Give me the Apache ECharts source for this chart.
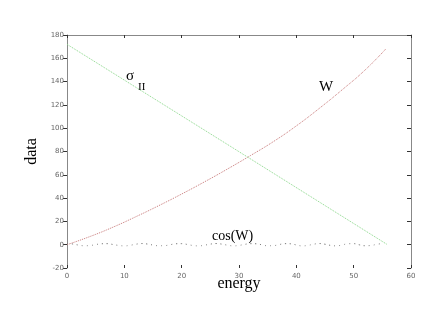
<!DOCTYPE html>
<html><head><meta charset="utf-8">
<script src="https://cdn.jsdelivr.net/npm/echarts@6/dist/echarts.min.js"></script>
<style>html,body{margin:0;padding:0;background:#fff}#c{width:436px;height:321px}</style>
</head><body><div id="c"></div>
<script>
var xTicks = [0, 10, 20, 30, 40, 50, 60];
var yTicks = [-20, 0, 20, 40, 60, 80, 100, 120, 140, 160, 180];
var wEnergy = [0, 4, 8, 12, 16, 20, 24, 28, 32, 36, 40, 44, 48, 52, 55.6];
var wValues = [0, 7, 15, 24, 33.5, 43.5, 54, 65, 76.5, 88.5, 102, 117, 133, 150, 168];
var sigmaEnergy = [0, 28, 55.9];
var sigmaValues = [172, 86, 0];
var cosEnergyStart = 0;
var cosValues = [1, 0.6, -0.3, -0.9, -0.7, 0.1, 0.8, 0.9, 0.2, -0.6, -1, -0.5, 0.4, 1, 0.6, -0.3, -0.9, -0.8, 0, 0.8, 0.9, 0.2, -0.7, -1, -0.4, 0.5, 1, 0.5, -0.4, -1, -0.6, 0.3, 0.9, 0.8, -0.1, -0.9, -0.8, 0.1, 0.9, 0.8, -0.2, -1, -0.6, 0.4, 1, 0.4, -0.6, -1, -0.2, 0.8, 0.9, -0.1, -0.9, -0.7, 0.3, 1];

function pairs(xs, ys){ return ys.map(function(v,i){ return [xs[i], v]; }); }
var cosData = cosValues.map(function(v,i){ return [cosEnergyStart + i, v]; });

var chart = echarts.init(document.getElementById('c'), null, {renderer:'canvas'});
var tickLabel = {fontSize:7, color:'#666', fontFamily:'DejaVu Sans'};
chart.setOption({
  animation:false,
  backgroundColor:'#fff',
  grid:{left:67, top:35, right:25, bottom:53, containLabel:false},
  xAxis:[{
    type:'value', min:xTicks[0], max:xTicks[xTicks.length-1], interval:10, position:'bottom',
    axisLine:{show:false, onZero:false},
    axisTick:{show:true, inside:true, length:3, lineStyle:{color:'#333'}},
    axisLabel:Object.assign({margin:5}, tickLabel),
    splitLine:{show:false},
    name:'energy', nameLocation:'middle', nameGap:8, nameMoveOverlap:false,
    nameTextStyle:{fontFamily:'Liberation Serif', fontSize:16, color:'#000'}
  },{
    type:'value', min:xTicks[0], max:xTicks[xTicks.length-1], interval:10, position:'top',
    axisLine:{show:true, onZero:false, lineStyle:{color:'#888', width:1}},
    axisTick:{show:true, inside:true, length:3, lineStyle:{color:'#333'}},
    axisLabel:{show:false}, splitLine:{show:false}
  }],
  yAxis:[{
    type:'value', min:yTicks[0], max:yTicks[yTicks.length-1], interval:20, position:'left',
    axisLine:{show:true, onZero:false, lineStyle:{color:'#888', width:1}},
    axisTick:{show:true, inside:false, length:4, lineStyle:{color:'#333'}},
    axisLabel:Object.assign({margin:3}, tickLabel),
    splitLine:{show:false},
    name:'data', nameLocation:'middle', nameGap:27, nameRotate:90, nameMoveOverlap:false,
    nameTextStyle:{fontFamily:'Liberation Serif', fontSize:16, color:'#000'}
  },{
    type:'value', min:yTicks[0], max:yTicks[yTicks.length-1], interval:20, position:'right',
    axisLine:{show:true, onZero:false, lineStyle:{color:'#888', width:1}},
    axisTick:{show:true, inside:true, length:4, lineStyle:{color:'#333'}},
    axisLabel:{show:false}, splitLine:{show:false}
  }],
  series:[
    {type:'line', name:'W', data:pairs(wEnergy, wValues), smooth:true, showSymbol:false,
     lineStyle:{color:'#c97a7a', width:1, type:'dotted'}},
    {type:'line', name:'sigma', data:pairs(sigmaEnergy, sigmaValues), showSymbol:false,
     lineStyle:{color:'#8ad88a', width:1, type:'dotted'}},
    {type:'line', name:'cos(W)', data:cosData, smooth:true, showSymbol:false,
     lineStyle:{color:'#777', width:1, type:[1,4]}}
  ],
  graphic:[
    {type:'text', left:126, top:69, style:{text:'σ', font:'15px "Liberation Serif"', fill:'#000'}},
    {type:'text', left:138, top:82, style:{text:'II', font:'11px "Liberation Serif"', fill:'#000'}},
    {type:'text', left:319, top:80, style:{text:'W', font:'15px "Liberation Serif"', fill:'#000'}},
    {type:'text', left:212, top:229, style:{text:'cos(W)', font:'14px "Liberation Serif"', fill:'#000'}}
  ]
});
</script></body></html>
